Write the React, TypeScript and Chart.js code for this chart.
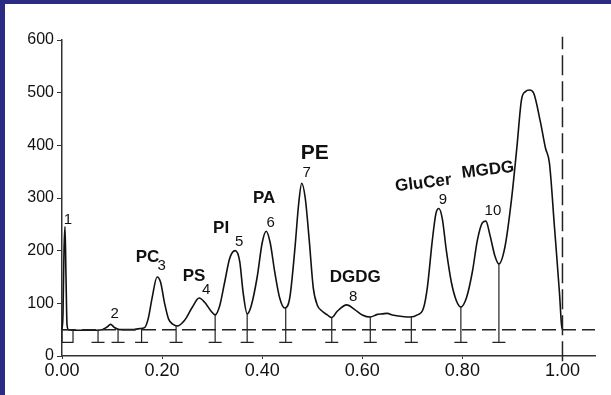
import React, { useEffect, useRef } from 'react';
import { Chart, registerables } from 'chart.js';
Chart.register(...registerables);

// Densitometer trace (relative Rf vs. response)
const traceX = [0.000, 0.002, 0.004, 0.006, 0.008, 0.010, 0.013, 0.03, 0.06, 0.08, 0.09, 0.097, 0.105, 0.115, 0.14, 0.155, 0.165, 0.172, 0.18, 0.19, 0.197, 0.205, 0.213, 0.222, 0.23, 0.245, 0.26, 0.274, 0.285, 0.298, 0.306, 0.315, 0.325, 0.335, 0.346, 0.355, 0.362, 0.37, 0.378, 0.39, 0.400, 0.408, 0.416, 0.425, 0.435, 0.445, 0.455, 0.465, 0.473, 0.479, 0.486, 0.494, 0.502, 0.51, 0.52, 0.53, 0.539, 0.55, 0.569, 0.585, 0.60, 0.616, 0.63, 0.64, 0.65, 0.66, 0.68, 0.696, 0.71, 0.722, 0.73, 0.74, 0.747, 0.753, 0.76, 0.768, 0.778, 0.788, 0.797, 0.808, 0.82, 0.83, 0.840, 0.847, 0.855, 0.865, 0.873, 0.885, 0.898, 0.909, 0.918, 0.926, 0.934, 0.942, 0.956, 0.966, 0.974, 0.984, 0.994, 0.998, 1.0];
const traceY = [50, 80, 200, 246, 150, 60, 50, 49, 49, 50, 55, 60, 54, 50, 50, 52, 54, 70, 110, 150, 140, 100, 70, 60, 57, 68, 92, 110, 102, 85, 78, 95, 140, 185, 200, 180, 120, 80, 95, 150, 215, 237, 215, 160, 110, 91, 110, 200, 290, 328, 300, 220, 130, 97, 85, 78, 73, 85, 97, 88, 78, 74, 79, 80, 81, 78, 75, 74, 78, 90, 130, 220, 270, 280, 260, 200, 140, 105, 93, 110, 160, 220, 253, 256, 230, 190, 175, 207, 296, 397, 486, 502, 505, 500, 444, 395, 366, 245, 120, 60, 50];

// integration drop lines
const dropX = [0.072, 0.112, 0.159, 0.228, 0.306, 0.37, 0.447, 0.539, 0.616, 0.698, 0.797, 0.873];
const dropTop = [50, 50, 52, 57, 78, 80, 91, 73, 74, 74, 93, 175];
const dropBottom = 26;
const boxX = [0, 0.022];
const boxY = [26, 50];

const baselineY = 50;
const frontX = 1.0;
const xMax = 1.065;
const xTicks = [0, 0.2, 0.4, 0.6, 0.8, 1.0];

const peakNums = ['1', '2', '3', '4', '5', '6', '7', '8', '9', '10'];
const peakNumX = [0.012, 0.105, 0.199, 0.288, 0.354, 0.417, 0.489, 0.582, 0.761, 0.861];
const peakNumY = [258, 80, 171, 125, 216, 252, 347, 112, 296, 275];

const lipidNames = ['PC', 'PS', 'PI', 'PA', 'PE', 'DGDG', 'GluCer', 'MGDG'];
const lipidX = [0.171, 0.264, 0.318, 0.404, 0.505, 0.586, 0.722, 0.851];
const lipidY = [188, 152, 243, 300, 385, 150, 328, 353];

const BLUE = '#2b2a85';
const INK = '#111111';

export default function App() {
  const ref = useRef<HTMLCanvasElement | null>(null);
  useEffect(() => {
    document.body.style.margin = '0';
    const canvas = ref.current;
    if (!canvas) return;

    const trace = traceX.map((x, i) => ({ x, y: traceY[i] }));
    const drops: any[] = [];
    dropX.forEach((x, i) => {
      drops.push({ x, y: dropTop[i] }, { x, y: dropBottom }, { x, y: null });
      drops.push({ x: x - 0.013, y: dropBottom }, { x: x + 0.013, y: dropBottom }, { x, y: null });
    });
    const box = [
      { x: boxX[0], y: boxY[0] }, { x: boxX[1], y: boxY[0] }, { x: boxX[1], y: boxY[1] },
      { x: boxX[0], y: boxY[1] }, { x: boxX[0], y: boxY[0] },
    ];

    const labelsPlugin = {
      id: 'labels',
      afterDatasetsDraw(chart: any) {
        const { ctx, scales } = chart;
        ctx.save();
        ctx.fillStyle = INK;
        ctx.textAlign = 'center';
        ctx.textBaseline = 'middle';
        ctx.font = '15px "Liberation Sans", Arial, sans-serif';
        peakNums.forEach((t, i) => {
          ctx.fillText(t, scales.x.getPixelForValue(peakNumX[i]), scales.y.getPixelForValue(peakNumY[i]));
        });
        ctx.font = 'bold 17px "Liberation Sans", Arial, sans-serif';
        lipidNames.forEach((t, i) => {
          const px = scales.x.getPixelForValue(lipidX[i]);
          const py = scales.y.getPixelForValue(lipidY[i]);
          ctx.save();
          ctx.translate(px, py);
          if (t === 'GluCer' || t === 'MGDG') ctx.rotate(-0.12);
          if (t === 'PE') ctx.font = 'bold 21px "Liberation Sans", Arial, sans-serif';
          ctx.fillText(t, 0, 0);
          ctx.restore();
        });
        ctx.restore();
      },
    };

    const chart = new Chart(canvas, {
      type: 'scatter',
      data: {
        datasets: [
          {
            data: [{ x: 0, y: baselineY }, { x: xMax, y: baselineY }],
            showLine: true, borderColor: '#222', borderWidth: 1.5, borderDash: [14, 6],
            pointRadius: 0, clip: false as any,
          },
          {
            data: [{ x: frontX, y: -10 }, { x: frontX, y: 606 }],
            showLine: true, borderColor: '#222', borderWidth: 1.5, borderDash: [20, 6],
            pointRadius: 0, clip: false as any,
          },
          {
            data: drops, showLine: true, spanGaps: false, borderColor: '#222', borderWidth: 1.2,
            pointRadius: 0, clip: false as any,
          },
          {
            data: box, showLine: true, borderColor: '#222', borderWidth: 1.2, pointRadius: 0, clip: false as any,
          },
          {
            data: trace, showLine: true, borderColor: INK, borderWidth: 1.6, pointRadius: 0,
            cubicInterpolationMode: 'monotone', clip: false as any,
          },
        ],
      },
      options: {
        animation: false,
        responsive: false,
        devicePixelRatio: 1,
        layout: { padding: { top: 36, right: 16, bottom: 0, left: 0 } },
        plugins: { legend: { display: false }, tooltip: { enabled: false } },
        scales: {
          x: {
            type: 'linear', min: 0, max: xMax,
            afterBuildTicks: (s: any) => { s.ticks = xTicks.map((v) => ({ value: v })); },
            afterFit: (s: any) => { s.height = 39; },
            grid: { drawOnChartArea: false, drawTicks: true, tickLength: 3, color: '#333' },
            border: { color: '#333', width: 1.5 },
            ticks: {
              color: INK, padding: 1, maxRotation: 0,
              font: { family: '"Liberation Sans", Arial, sans-serif', size: 18 },
              callback: (v: any) => Number(v).toFixed(2),
            },
          },
          y: {
            type: 'linear', min: 0, max: 600,
            afterFit: (s: any) => { s.width = 57; },
            grid: { drawOnChartArea: false, drawTicks: true, tickLength: 5, color: '#333' },
            border: { color: '#333', width: 1.5 },
            ticks: {
              color: INK, stepSize: 100, padding: 3,
              font: { family: '"Liberation Sans", Arial, sans-serif', size: 16 },
            },
          },
        },
      },
      plugins: [labelsPlugin],
    });
    return () => chart.destroy();
  }, []);

  return (
    <div style={{
      width: 611, height: 395, boxSizing: 'border-box', background: '#fff',
      borderTop: `4px solid ${BLUE}`, borderLeft: `5px solid ${BLUE}`, overflow: 'hidden',
    }}>
      <canvas ref={ref} width={606} height={391} style={{ display: 'block', width: 606, height: 391 }} />
    </div>
  );
}
